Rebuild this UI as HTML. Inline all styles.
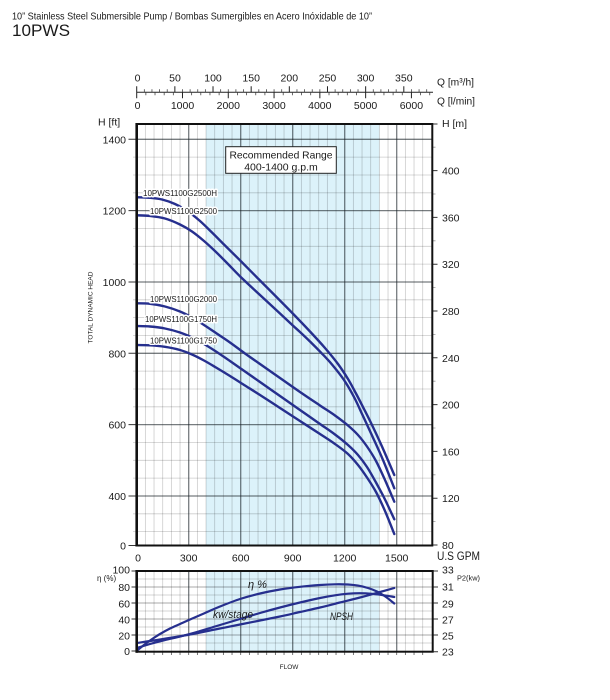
<!DOCTYPE html>
<html><head><meta charset="utf-8"><style>
html,body{margin:0;padding:0;background:#fff;}
svg{display:block;}
text{font-family:"Liberation Sans",Arial,sans-serif;fill:#1a1a1a;}
</style></head><body>
<svg id="chart" width="610" height="700" viewBox="0 0 610 700" xmlns="http://www.w3.org/2000/svg">
<!-- Titles -->
<text x="12" y="19.5" font-size="10.5" textLength="360" lengthAdjust="spacingAndGlyphs">10” Stainless Steel Submersible Pump / Bombas Sumergibles en Acero Inóxidable de 10”</text>
<text x="12" y="36" font-size="17" textLength="58" lengthAdjust="spacingAndGlyphs">10PWS</text>

<!-- Top Q axis -->
<line x1="136.7" y1="92.3" x2="433" y2="92.3" stroke="#222" stroke-width="1"/>
<path stroke="#444" stroke-width="0.8" fill="none" d="M144.33 89.3V92.3M151.96 89.3V92.3M159.59 89.3V92.3M167.23 89.3V92.3M182.49 89.3V92.3M190.12 89.3V92.3M197.75 89.3V92.3M205.38 89.3V92.3M220.65 89.3V92.3M228.28 89.3V92.3M235.91 89.3V92.3M243.54 89.3V92.3M258.81 89.3V92.3M266.44 89.3V92.3M274.07 89.3V92.3M281.7 89.3V92.3M296.96 89.3V92.3M304.6 89.3V92.3M312.23 89.3V92.3M319.86 89.3V92.3M335.12 89.3V92.3M342.75 89.3V92.3M350.38 89.3V92.3M358.02 89.3V92.3M373.28 89.3V92.3M380.91 89.3V92.3M388.54 89.3V92.3M396.17 89.3V92.3M411.44 89.3V92.3M419.07 89.3V92.3M426.7 89.3V92.3"/>
<path stroke="#222" stroke-width="1" fill="none" d="M136.7 86.3V98.3M174.86 86.3V92.3M213.02 86.3V92.3M251.17 86.3V92.3M289.33 86.3V92.3M327.49 86.3V92.3M365.65 86.3V92.3M403.81 86.3V92.3"/>
<path stroke="#444" stroke-width="0.8" fill="none" d="M145.86 92.3V95.3M155.01 92.3V95.3M164.17 92.3V95.3M173.33 92.3V95.3M191.64 92.3V95.3M200.8 92.3V95.3M209.96 92.3V95.3M219.12 92.3V95.3M237.43 92.3V95.3M246.59 92.3V95.3M255.75 92.3V95.3M264.9 92.3V95.3M283.22 92.3V95.3M292.38 92.3V95.3M301.53 92.3V95.3M310.69 92.3V95.3M329.01 92.3V95.3M338.16 92.3V95.3M347.32 92.3V95.3M356.48 92.3V95.3M374.79 92.3V95.3M383.95 92.3V95.3M393.11 92.3V95.3M402.27 92.3V95.3M420.58 92.3V95.3M429.74 92.3V95.3"/>
<path stroke="#222" stroke-width="1" fill="none" d="M182.49 92.3V98.3M228.27 92.3V98.3M274.06 92.3V98.3M319.85 92.3V98.3M365.64 92.3V98.3M411.42 92.3V98.3"/>
<g font-size="10.5" text-anchor="middle">
<text x="137.5" y="81.3">0</text><text x="175" y="81.3">50</text><text x="213" y="81.3">100</text><text x="251.2" y="81.3">150</text><text x="289.3" y="81.3">200</text><text x="327.5" y="81.3">250</text><text x="365.6" y="81.3">300</text><text x="403.8" y="81.3">350</text>
<text x="137.5" y="109">0</text><text x="182.5" y="109">1000</text><text x="228.3" y="109">2000</text><text x="274" y="109">3000</text><text x="319.8" y="109">4000</text><text x="365.6" y="109">5000</text><text x="411.4" y="109">6000</text>
</g>
<text x="437" y="85.7" font-size="10.5" textLength="37" lengthAdjust="spacingAndGlyphs">Q [m³/h]</text>
<text x="437" y="104.7" font-size="10.5" textLength="38" lengthAdjust="spacingAndGlyphs">Q [l/min]</text>

<!-- Main chart -->
<rect x="206.03" y="124" width="173.34" height="421.5" fill="#dcf2fa"/>
<path stroke="rgba(0,0,0,0.2)" stroke-width="0.8" fill="none" d="M145.37 124V545.5M154.03 124V545.5M162.7 124V545.5M171.37 124V545.5M180.03 124V545.5M197.37 124V545.5M206.03 124V545.5M214.7 124V545.5M223.37 124V545.5M232.03 124V545.5M249.37 124V545.5M258.03 124V545.5M266.7 124V545.5M275.37 124V545.5M284.03 124V545.5M301.37 124V545.5M310.03 124V545.5M318.7 124V545.5M327.37 124V545.5M336.03 124V545.5M353.37 124V545.5M362.03 124V545.5M370.7 124V545.5M379.37 124V545.5M388.03 124V545.5M405.37 124V545.5M414.03 124V545.5M422.7 124V545.5"/>
<path stroke="rgba(0,0,0,0.2)" stroke-width="0.8" fill="none" d="M133 157.13H432.3M133 174.97H432.3M133 192.8H432.3M133 228.47H432.3M133 246.3H432.3M133 264.13H432.3M133 299.8H432.3M133 317.63H432.3M133 335.47H432.3M133 371.13H432.3M133 388.97H432.3M133 406.8H432.3M133 442.47H432.3M133 460.3H432.3M133 478.13H432.3M133 513.8H432.3M133 531.63H432.3"/>
<path stroke="rgba(20,30,35,0.58)" stroke-width="1.3" fill="none" d="M188.7 124V545.5M240.7 124V545.5M292.7 124V545.5M344.7 124V545.5M396.7 124V545.5"/>
<path stroke="rgba(20,30,35,0.58)" stroke-width="1.3" fill="none" d="M136.7 139.3H432.3M136.7 210.63H432.3M136.7 281.97H432.3M136.7 353.3H432.3M136.7 424.63H432.3M136.7 495.97H432.3"/>
<!-- left ticks -->
<path stroke="#333" stroke-width="1" fill="none" d="M128.5 139.3H136.7M128.5 210.63H136.7M128.5 281.97H136.7M128.5 353.3H136.7M128.5 424.63H136.7M128.5 495.97H136.7M128.5 545.5H136.7"/>
<!-- right ticks -->
<path stroke="#333" stroke-width="1" fill="none" d="M432.3 124H437.5M432.3 170.6H437.5M432.3 217.4H437.5M432.3 264.2H437.5M432.3 311H437.5M432.3 357.8H437.5M432.3 404.6H437.5M432.3 451.4H437.5M432.3 498.2H437.5M432.3 545H437.5"/>
<path stroke="#999" stroke-width="0.8" fill="none" d="M432.3 147.2H435.5M432.3 194H435.5M432.3 240.8H435.5M432.3 287.6H435.5M432.3 334.4H435.5M432.3 381.2H435.5M432.3 428H435.5M432.3 474.8H435.5M432.3 521.6H435.5"/>

<!-- Recommended range box -->
<rect x="225.7" y="146.7" width="110.6" height="26.6" fill="#fff" stroke="#222" stroke-width="1"/>
<text x="281" y="158.3" font-size="10.5" text-anchor="middle" textLength="103" lengthAdjust="spacingAndGlyphs">Recommended Range</text>
<text x="281" y="170.5" font-size="10.5" text-anchor="middle">400-1400 g.p.m</text>

<!-- Curves -->
<g fill="none" stroke="#262f8e" stroke-width="2.4" stroke-linejoin="round" stroke-linecap="round">
<polyline class="sm" points="136.7,197.3 150,197.8 162,199.5 175,204 188,211.5 200,221 212,232.5 225,245.5 240.7,261 258,278.5 275,295.5 292.3,313 310,331.5 325,348 338,364 348,379 356,393.5 364,409 372,425 382,446.5 394.3,475"/>
<polyline class="sm" points="136.7,215.3 150,215.9 165,218.5 180,224.5 192,231.5 204,241 216,252 228,264 240.7,277 260,295 280,313.5 292.3,325 300,332 310,341.5 321.7,353.3 332,364.5 344,380 354,397 363,416 372,435.5 383,460 394.3,488.3"/>
<polyline class="sm" points="136.7,303.3 150,303.8 165,306.5 180,311.5 192,317.5 204,325 216.7,333.5 230,342.5 245,353.5 260,364 280,378 300,392 320,405.5 335,415.5 348,425.5 358,435 367,446.5 376,461 385,480 394.3,501.7"/>
<polyline class="sm" points="136.7,326 150,326.5 165,328.5 180,332.5 192,337.5 204,344 216,351.5 230,361 245,371.5 260,382 280,396 300,410 320,424 335,434.5 348,445 358,455 367,467 376,482.5 385,499.5 394.3,519.3"/>
<polyline class="sm" points="136.7,345 150,345.3 165,346.8 180,350 192,354.5 204,360.5 216,367.5 230,376 245,385.5 260,395 280,408 300,421 320,434 335,444 348,454 358,465 367,477.5 376,492 385,511 394.3,534"/>
</g>
<g font-size="8" text-anchor="end" stroke="#fff" stroke-width="3" paint-order="stroke" stroke-linejoin="round">
<text x="217" y="196.2" textLength="74" lengthAdjust="spacingAndGlyphs">10PWS1100G2500H</text>
<text x="217" y="214" textLength="67" lengthAdjust="spacingAndGlyphs">10PWS1100G2500</text>
<text x="217" y="302" textLength="67" lengthAdjust="spacingAndGlyphs">10PWS1100G2000</text>
<text x="217" y="322.2" textLength="72" lengthAdjust="spacingAndGlyphs">10PWS1100G1750H</text>
<text x="217" y="343.5" textLength="67" lengthAdjust="spacingAndGlyphs">10PWS1100G1750</text>
</g>

<!-- frame -->
<rect x="136.7" y="124" width="295.6" height="421.5" fill="none" stroke="#111" stroke-width="2"/>
<line x1="136.7" y1="123" x2="136.7" y2="546.5" stroke="#111" stroke-width="2.6"/>

<!-- main axis labels -->
<g font-size="10.5" text-anchor="end">
<text x="126" y="143.3">1400</text><text x="126" y="214.7">1200</text><text x="126" y="286">1000</text><text x="126" y="357.3">800</text><text x="126" y="428.6">600</text><text x="126" y="500">400</text><text x="126" y="549.5">0</text>
</g>
<g font-size="10.5">
<text x="442" y="174.6">400</text><text x="442" y="221.4">360</text><text x="442" y="268.2">320</text><text x="442" y="315">280</text><text x="442" y="361.8">240</text><text x="442" y="408.6">200</text><text x="442" y="455.4">160</text><text x="442" y="502.2">120</text><text x="442" y="549">80</text>
</g>
<text x="98" y="125.5" font-size="10.5">H [ft]</text>
<text x="442" y="127" font-size="10.5">H [m]</text>
<text transform="translate(92.5,307.5) rotate(-90)" font-size="6.5" text-anchor="middle" textLength="72" lengthAdjust="spacingAndGlyphs">TOTAL DYNAMIC HEAD</text>
<g font-size="10.5" text-anchor="middle">
<text x="138" y="561.5">0</text><text x="188.7" y="561.5">300</text><text x="240.7" y="561.5">600</text><text x="292.7" y="561.5">900</text><text x="344.7" y="561.5">1200</text><text x="396.7" y="561.5">1500</text>
</g>
<text x="437" y="560" font-size="11.5" textLength="43" lengthAdjust="spacingAndGlyphs">U.S GPM</text>

<!-- Bottom chart -->
<rect x="206.03" y="571" width="173.34" height="80.7" fill="#dcf2fa"/>
<path stroke="rgba(0,0,0,0.2)" stroke-width="0.8" fill="none" d="M145.37 571V651.7M154.03 571V651.7M162.7 571V651.7M171.37 571V651.7M180.03 571V651.7M197.37 571V651.7M206.03 571V651.7M214.7 571V651.7M223.37 571V651.7M232.03 571V651.7M249.37 571V651.7M258.03 571V651.7M266.7 571V651.7M275.37 571V651.7M284.03 571V651.7M301.37 571V651.7M310.03 571V651.7M318.7 571V651.7M327.37 571V651.7M336.03 571V651.7M353.37 571V651.7M362.03 571V651.7M370.7 571V651.7M379.37 571V651.7M388.03 571V651.7M405.37 571V651.7M414.03 571V651.7M422.7 571V651.7"/>
<path stroke="rgba(0,0,0,0.22)" stroke-width="0.8" fill="none" d="M136.7 579H432.7M136.7 595H432.7M136.7 611H432.7M136.7 627H432.7M136.7 643H432.7"/>
<path stroke="rgba(0,0,0,0.34)" stroke-width="0.9" fill="none" d="M136.7 587H432.7M136.7 603H432.7M136.7 619H432.7M136.7 635H432.7"/>
<path stroke="rgba(20,30,35,0.58)" stroke-width="1.3" fill="none" d="M188.7 571V651.7M240.7 571V651.7M292.7 571V651.7M344.7 571V651.7M396.7 571V651.7"/>
<path stroke="#555" stroke-width="0.8" fill="none" d="M145.37 651.7V655M154.03 651.7V655M162.7 651.7V655M171.37 651.7V655M180.03 651.7V655M188.7 651.7V655M197.37 651.7V655M206.03 651.7V655M214.7 651.7V655M223.37 651.7V655M232.03 651.7V655M240.7 651.7V655M249.37 651.7V655M258.03 651.7V655M266.7 651.7V655M275.37 651.7V655M284.03 651.7V655M292.7 651.7V655M301.37 651.7V655M310.03 651.7V655M318.7 651.7V655M327.37 651.7V655M336.03 651.7V655M344.7 651.7V655M353.37 651.7V655M362.03 651.7V655M370.7 651.7V655M379.37 651.7V655M388.03 651.7V655M396.7 651.7V655M405.37 651.7V655M414.03 651.7V655M422.7 651.7V655"/>
<path stroke="#333" stroke-width="1" fill="none" d="M131.5 571H136.7M131.5 587H136.7M131.5 603H136.7M131.5 619H136.7M131.5 635H136.7M131.5 651H136.7M432.7 571H438M432.7 587H438M432.7 603H438M432.7 619H438M432.7 635H438M432.7 651.7H438"/>
<g fill="none" stroke="#262f8e" stroke-width="2.2" stroke-linejoin="round" stroke-linecap="round">
<polyline class="sm" points="136.7,651 142,646.5 150,640.5 160,634 170,628.5 180,624 190,619.5 205,613 220,606.5 240,599 260,593.5 280,589.5 300,586.8 320,585 335,584.3 348,584.5 358,585.6 368,588 377,591.5 386,597 394.3,603.5"/>
<polyline class="sm" points="136.7,648 150,644 165,640 180,636.5 195,632.5 215,626.5 240,619 260,613 280,607.5 300,602.5 320,598 335,595.3 348,593.7 360,593.2 372,593.8 384,595.3 394.3,597"/>
<polyline class="sm" points="136.7,643 160,639.5 190,634.5 215,629.5 240,624.5 260,620.5 280,616.5 300,612 320,607.5 340,602.5 360,597.5 378,592.5 394.3,588"/>
</g>
<rect x="136.7" y="571" width="296" height="80.7" fill="none" stroke="#111" stroke-width="2"/>
<line x1="136.7" y1="570" x2="136.7" y2="652.7" stroke="#111" stroke-width="2.6"/>
<g font-size="11" font-style="italic">
<text x="248" y="588">η %</text>
<text x="213" y="618" textLength="40" lengthAdjust="spacingAndGlyphs">kw/stage</text>
<text x="330" y="620" textLength="23" lengthAdjust="spacingAndGlyphs">NPSH</text>
</g>
<g font-size="10.5" text-anchor="end">
<text x="130" y="573.5">100</text><text x="130" y="591">80</text><text x="130" y="607.3">60</text><text x="130" y="623.3">40</text><text x="130" y="639.3">20</text><text x="130" y="655">0</text>
</g>
<g font-size="10.5">
<text x="442" y="573.5">33</text><text x="442" y="590.7">31</text><text x="442" y="607.3">29</text><text x="442" y="623.3">27</text><text x="442" y="639.7">25</text><text x="442" y="655.7">23</text>
</g>
<text x="97" y="581" font-size="8">η (%)</text>
<text x="457" y="580.5" font-size="7" textLength="23" lengthAdjust="spacingAndGlyphs">P2(kw)</text>
<text x="289" y="669" font-size="6.5" text-anchor="middle">FLOW</text>
</svg>
<script>
(function(){
  var NS="http://www.w3.org/2000/svg";
  var list=document.querySelectorAll("polyline.sm");
  for(var i=0;i<list.length;i++){
    var pl=list[i];
    var raw=pl.getAttribute("points").trim().split(/\s+/);
    var p=[];
    for(var j=0;j<raw.length;j++){var c=raw[j].split(",");p.push([parseFloat(c[0]),parseFloat(c[1])]);}
    var d="M"+p[0][0]+" "+p[0][1];
    for(var k=0;k<p.length-1;k++){
      var p0=p[k>0?k-1:k],p1=p[k],p2=p[k+1],p3=p[k+2<p.length?k+2:k+1];
      var c1x=p1[0]+(p2[0]-p0[0])/6,c1y=p1[1]+(p2[1]-p0[1])/6;
      var c2x=p2[0]-(p3[0]-p1[0])/6,c2y=p2[1]-(p3[1]-p1[1])/6;
      d+="C"+c1x.toFixed(2)+" "+c1y.toFixed(2)+" "+c2x.toFixed(2)+" "+c2y.toFixed(2)+" "+p2[0]+" "+p2[1];
    }
    var path=document.createElementNS(NS,"path");
    path.setAttribute("d",d);
    pl.parentNode.replaceChild(path,pl);
  }
})();
</script>
</body></html>
